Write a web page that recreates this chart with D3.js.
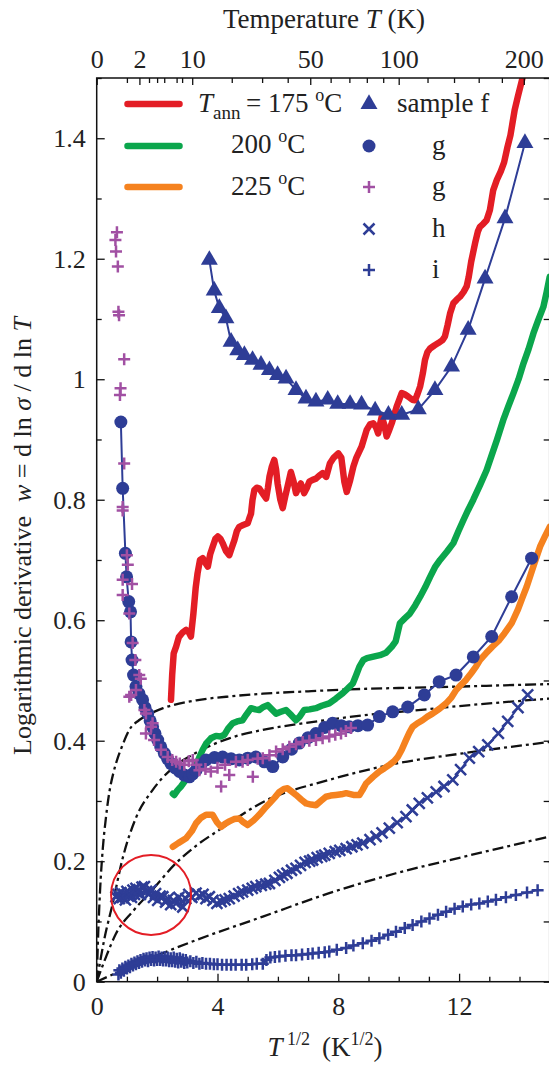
<!DOCTYPE html>
<html>
<head>
<meta charset="utf-8">
<script src="https://cdn.jsdelivr.net/npm/d3@7"></script>
<style>
body { margin: 0; background: #fff; }
svg { display: block; }
</style>
</head>
<body>
<script>
//Width and height
var w = 549;
var h = 1068;

//Plot frame (pixels)
var plot = {left: 96.7, right: 549.7, top: 78, bottom: 981.7};

//Tick values
var xMajorTicks = [0, 4, 8, 12];
var xMinorTicks = [1, 2, 3, 5, 6, 7, 9, 10, 11, 13, 14];
var yMajorTicks = [0, 0.2, 0.4, 0.6, 0.8, 1, 1.2, 1.4];
var yMinorTicks = [0.1, 0.3, 0.5, 0.7, 0.9, 1.1, 1.3, 1.5];
var tempTicks = [0, 2, 10, 50, 100, 200];
var tempMinorTicks = [1, 3, 4, 5, 7, 8, 20, 30, 40, 60, 70, 80, 90, 120, 140, 160, 180];

//Measured curves: [T^1/2, w]
var ann175 = [[2.46,0.468],[2.50,0.51],[2.55,0.545],[2.63,0.556],[2.72,0.572],[2.85,0.58],[2.96,0.584],[3.05,0.58],[3.12,0.573],[3.2,0.61],[3.28,0.655],[3.34,0.678],[3.42,0.70],[3.51,0.703],[3.6,0.695],[3.68,0.689],[3.76,0.71],[3.84,0.722],[3.93,0.735],[4.01,0.739],[4.1,0.735],[4.17,0.728],[4.28,0.715],[4.39,0.708],[4.47,0.72],[4.56,0.733],[4.64,0.748],[4.72,0.755],[4.85,0.758],[5.00,0.761],[5.06,0.77],[5.11,0.777],[5.16,0.80],[5.22,0.816],[5.30,0.82],[5.38,0.819],[5.5,0.81],[5.61,0.802],[5.67,0.82],[5.72,0.838],[5.80,0.855],[5.88,0.866],[5.94,0.85],[5.99,0.827],[6.08,0.80],[6.16,0.786],[6.24,0.805],[6.32,0.822],[6.43,0.846],[6.52,0.83],[6.60,0.811],[6.68,0.82],[6.76,0.827],[6.87,0.811],[6.96,0.82],[7.04,0.830],[7.15,0.833],[7.26,0.835],[7.37,0.84],[7.48,0.844],[7.6,0.838],[7.72,0.860],[7.85,0.87],[8.0,0.877],[8.1,0.87],[8.2,0.83],[8.28,0.813],[8.38,0.83],[8.50,0.855],[8.6,0.87],[8.77,0.888],[8.94,0.916],[9.05,0.925],[9.16,0.927],[9.25,0.92],[9.32,0.910],[9.38,0.925],[9.44,0.938],[9.52,0.925],[9.60,0.905],[9.68,0.915],[9.77,0.927],[9.93,0.954],[10.10,0.977],[10.2,0.975],[10.32,0.971],[10.45,0.966],[10.54,0.965],[10.62,0.975],[10.71,0.988],[10.8,1.01],[10.87,1.032],[10.95,1.045],[11.04,1.051],[11.18,1.056],[11.31,1.060],[11.45,1.065],[11.53,1.071],[11.62,1.09],[11.70,1.109],[11.81,1.126],[11.92,1.132],[12.03,1.137],[12.15,1.145],[12.25,1.154],[12.32,1.17],[12.40,1.195],[12.53,1.226],[12.62,1.245],[12.69,1.253],[12.80,1.258],[12.91,1.264],[13.02,1.281],[13.13,1.314],[13.25,1.331],[13.38,1.345],[13.49,1.36],[13.6,1.385],[13.7,1.405],[13.84,1.447],[13.95,1.47],[14.05,1.49],[14.15,1.51]];

var ann200 = [[2.52,0.312],[2.57,0.310],[2.68,0.318],[2.79,0.324],[2.95,0.335],[3.05,0.342],[3.18,0.346],[3.3,0.36],[3.42,0.375],[3.51,0.385],[3.62,0.395],[3.78,0.404],[3.95,0.408],[4.1,0.407],[4.23,0.410],[4.35,0.42],[4.50,0.429],[4.65,0.432],[4.83,0.434],[4.95,0.443],[5.11,0.454],[5.25,0.452],[5.38,0.451],[5.52,0.456],[5.66,0.459],[5.8,0.452],[5.94,0.445],[6.1,0.448],[6.27,0.451],[6.45,0.442],[6.60,0.434],[6.72,0.44],[6.87,0.451],[7.05,0.452],[7.26,0.454],[7.45,0.458],[7.70,0.462],[7.92,0.470],[8.15,0.479],[8.3,0.486],[8.48,0.495],[8.6,0.51],[8.70,0.523],[8.83,0.534],[8.95,0.537],[9.2,0.54],[9.38,0.542],[9.58,0.546],[9.77,0.556],[9.9,0.565],[10.04,0.595],[10.2,0.603],[10.37,0.611],[10.55,0.625],[10.71,0.639],[10.88,0.655],[11.04,0.672],[11.2,0.688],[11.37,0.700],[11.6,0.714],[11.81,0.728],[11.98,0.748],[12.14,0.766],[12.3,0.783],[12.47,0.800],[12.7,0.825],[12.91,0.849],[13.08,0.874],[13.25,0.899],[13.46,0.932],[13.63,0.955],[13.80,0.977],[13.97,1.0],[14.13,1.026],[14.3,1.05],[14.46,1.076],[14.62,1.098],[14.79,1.120],[14.9,1.145],[15.0,1.17]];

var ann225 = [[2.52,0.224],[2.7,0.23],[2.96,0.238],[3.15,0.25],[3.29,0.263],[3.45,0.272],[3.62,0.277],[3.84,0.277],[3.98,0.265],[4.12,0.257],[4.25,0.262],[4.39,0.266],[4.55,0.27],[4.72,0.271],[4.85,0.265],[5.00,0.260],[5.2,0.268],[5.38,0.277],[5.55,0.287],[5.72,0.296],[5.9,0.306],[6.05,0.315],[6.2,0.32],[6.32,0.321],[6.45,0.316],[6.60,0.310],[6.78,0.302],[6.93,0.296],[7.1,0.294],[7.26,0.293],[7.42,0.30],[7.59,0.307],[7.75,0.309],[7.92,0.310],[8.1,0.311],[8.26,0.313],[8.5,0.31],[8.70,0.310],[8.8,0.318],[8.92,0.329],[9.15,0.34],[9.36,0.349],[9.52,0.354],[9.69,0.360],[9.85,0.366],[9.97,0.373],[10.1,0.385],[10.24,0.401],[10.35,0.413],[10.46,0.423],[10.62,0.429],[10.79,0.434],[10.95,0.44],[11.12,0.445],[11.35,0.453],[11.57,0.462],[11.75,0.472],[11.90,0.484],[12.05,0.492],[12.23,0.501],[12.4,0.512],[12.56,0.523],[12.69,0.534],[12.89,0.545],[13.1,0.556],[13.33,0.567],[13.5,0.578],[13.74,0.595],[13.95,0.618],[14.1,0.638],[14.24,0.656],[14.45,0.688],[14.68,0.722],[14.85,0.74],[15.0,0.755]];

//Samples
var sampleF = [[3.73,1.198],[3.89,1.147],[4.06,1.118],[4.28,1.101],[4.45,1.062],[4.67,1.048],[4.89,1.040],[5.16,1.032],[5.44,1.024],[5.72,1.015],[5.99,1.007],[6.27,1.001],[6.60,0.982],[6.93,0.968],[7.26,0.963],[7.65,0.966],[7.98,0.959],[8.39,0.959],[8.77,0.958],[9.22,0.948],[9.66,0.941],[10.10,0.941],[10.65,0.950],[11.20,0.982],[11.75,1.021],[12.30,1.082],[12.86,1.167],[13.52,1.267],[14.18,1.392]];

var sampleG = [[0.80,0.929],[0.86,0.819],[0.95,0.711],[0.99,0.672],[1.06,0.631],[1.12,0.614],[1.14,0.564],[1.17,0.534],[1.22,0.509],[1.30,0.490],[1.40,0.478],[1.52,0.468],[1.60,0.455],[1.69,0.445],[1.77,0.433],[1.85,0.423],[1.93,0.412],[2.02,0.401],[2.12,0.39],[2.24,0.379],[2.35,0.37],[2.46,0.362],[2.6,0.355],[2.74,0.349],[2.9,0.343],[3.07,0.340],[3.18,0.345],[3.29,0.351],[3.45,0.36],[3.62,0.368],[3.9,0.372],[4.17,0.373],[4.45,0.370],[4.72,0.368],[5.0,0.371],[5.27,0.373],[5.55,0.365],[5.83,0.357],[6.16,0.373],[6.45,0.386],[6.71,0.396],[7.0,0.405],[7.26,0.412],[7.55,0.422],[7.81,0.429],[8.1,0.425],[8.36,0.423],[8.65,0.425],[8.97,0.426],[9.36,0.440],[9.80,0.448],[10.30,0.456],[10.85,0.476],[11.34,0.498],[11.90,0.509],[12.47,0.539],[13.08,0.573],[13.74,0.639],[14.40,0.703]];

var sampleG2 = [[0.67,1.244],[0.62,1.231],[0.64,1.212],[0.70,1.187],[0.72,1.112],[0.74,1.106],[0.91,1.033],[0.79,0.985],[0.77,0.974],[0.91,0.860],[0.86,0.788],[0.86,0.782],[1.00,0.708],[1.03,0.692],[0.86,0.667],[1.17,0.660],[0.86,0.642],[1.08,0.611],[1.19,0.562],[1.28,0.534],[1.41,0.509],[1.46,0.503],[1.30,0.484],[1.08,0.473],[1.14,0.476],[1.58,0.451],[1.63,0.445],[1.80,0.423],[1.85,0.429],[1.63,0.412],[1.90,0.401],[2.13,0.385],[2.35,0.373],[2.5,0.368],[2.63,0.365],[2.75,0.362],[2.90,0.360],[3.05,0.366],[3.18,0.368],[3.30,0.36],[3.40,0.351],[3.6,0.353],[3.78,0.349],[4.12,0.324],[4.0,0.355],[4.25,0.36],[4.39,0.343],[4.61,0.365],[4.83,0.365],[5.0,0.368],[5.17,0.340],[5.33,0.37],[5.50,0.371],[5.72,0.376],[5.94,0.382],[6.16,0.386],[6.38,0.390],[6.6,0.394],[6.82,0.398],[7.04,0.40],[7.26,0.401],[7.48,0.404],[7.70,0.407],[7.9,0.41],[8.09,0.412],[8.25,0.416],[8.42,0.421]];

var sampleH = [[0.64,0.141],[0.7,0.145],[0.75,0.138],[0.8,0.148],[0.85,0.14],[0.9,0.145],[0.95,0.136],[1.0,0.15],[1.05,0.142],[1.1,0.147],[1.15,0.14],[1.2,0.152],[1.25,0.145],[1.3,0.155],[1.35,0.148],[1.4,0.153],[1.45,0.145],[1.5,0.157],[1.58,0.158],[1.65,0.15],[1.72,0.145],[1.8,0.152],[1.88,0.14],[1.95,0.146],[2.02,0.135],[2.1,0.142],[2.19,0.141],[2.28,0.132],[2.36,0.138],[2.45,0.128],[2.54,0.135],[2.63,0.130],[2.72,0.14],[2.85,0.124],[2.95,0.138],[3.05,0.145],[3.15,0.14],[3.29,0.147],[3.4,0.142],[3.52,0.145],[3.62,0.138],[3.73,0.141],[3.85,0.135],[3.98,0.13],[4.12,0.133],[4.25,0.136],[4.39,0.138],[4.55,0.142],[4.7,0.146],[4.83,0.149],[5.0,0.152],[5.15,0.155],[5.27,0.158],[5.45,0.16],[5.6,0.162],[5.72,0.163],[5.9,0.168],[6.05,0.173],[6.16,0.177],[6.3,0.18],[6.45,0.185],[6.60,0.188],[6.75,0.193],[6.9,0.198],[7.05,0.2],[7.15,0.202],[7.3,0.206],[7.45,0.208],[7.55,0.21],[7.70,0.213],[7.9,0.216],[8.05,0.218],[8.26,0.221],[8.45,0.224],[8.62,0.227],[8.81,0.230],[9.05,0.236],[9.25,0.241],[9.45,0.247],[9.69,0.255],[9.95,0.264],[10.24,0.274],[10.45,0.285],[10.68,0.296],[10.95,0.305],[11.24,0.315],[11.5,0.324],[11.79,0.335],[12.05,0.352],[12.34,0.371],[12.65,0.382],[12.95,0.393],[13.3,0.412],[13.61,0.432],[13.95,0.455],[14.27,0.476]];

var sampleI = [[0.72,0.012],[0.75,0.019],[0.8,0.015],[0.85,0.022],[0.9,0.018],[0.95,0.025],[1.0,0.022],[1.05,0.027],[1.1,0.024],[1.15,0.03],[1.2,0.027],[1.25,0.032],[1.3,0.029],[1.35,0.034],[1.4,0.031],[1.45,0.036],[1.5,0.033],[1.55,0.038],[1.6,0.035],[1.65,0.039],[1.7,0.034],[1.75,0.04],[1.8,0.036],[1.85,0.041],[1.9,0.035],[1.95,0.04],[2.0,0.036],[2.05,0.042],[2.1,0.036],[2.15,0.04],[2.2,0.035],[2.25,0.041],[2.3,0.035],[2.35,0.04],[2.4,0.034],[2.45,0.039],[2.5,0.034],[2.55,0.04],[2.6,0.033],[2.65,0.038],[2.7,0.032],[2.75,0.039],[2.8,0.033],[2.85,0.037],[2.9,0.031],[2.95,0.036],[3.0,0.032],[3.1,0.034],[3.2,0.031],[3.3,0.033],[3.4,0.03],[3.5,0.031],[3.62,0.03],[3.75,0.03],[3.88,0.029],[4.0,0.029],[4.15,0.028],[4.3,0.028],[4.45,0.028],[4.6,0.028],[4.8,0.028],[4.95,0.028],[5.15,0.029],[5.3,0.03],[5.5,0.03],[5.62,0.036],[5.75,0.04],[5.9,0.041],[6.05,0.042],[6.25,0.043],[6.45,0.044],[6.6,0.044],[6.8,0.045],[7.0,0.046],[7.15,0.047],[7.35,0.048],[7.55,0.049],[7.70,0.050],[7.95,0.053],[8.26,0.056],[8.5,0.06],[8.81,0.064],[9.1,0.068],[9.36,0.072],[9.65,0.078],[9.91,0.083],[10.2,0.089],[10.46,0.094],[10.75,0.1],[11.02,0.105],[11.3,0.111],[11.57,0.116],[11.85,0.121],[12.12,0.125],[12.4,0.128],[12.67,0.130],[12.95,0.133],[13.22,0.136],[13.55,0.14],[13.88,0.144],[14.25,0.148],[14.60,0.152]];

//Dash-dot model curves
var fitA = [[0,0],[0.05,0.08],[0.11,0.15],[0.2,0.22],[0.3,0.27],[0.42,0.315],[0.55,0.346],[0.7,0.372],[0.85,0.392],[1.08,0.418],[1.4,0.434],[1.74,0.444],[2.2,0.454],[3.3,0.467],[4.5,0.474],[5.5,0.478],[7,0.482],[8.8,0.486],[10.5,0.488],[12.1,0.49],[13.5,0.492],[15,0.494]];
var fitB = [[0,0],[0.25,0.07],[0.53,0.13],[0.86,0.205],[1.3,0.272],[1.85,0.318],[2.52,0.355],[3.29,0.38],[4.39,0.404],[5.5,0.418],[7,0.43],[8.8,0.442],[10.5,0.45],[12.1,0.458],[13.5,0.464],[15,0.47]];
var fitC = [[0,0],[0.3,0.04],[0.64,0.08],[1.2,0.117],[1.8,0.15],[2.63,0.197],[3.3,0.226],[4.06,0.252],[5.5,0.298],[7.7,0.335],[9.91,0.362],[12.12,0.379],[15,0.398]];
var fitD = [[0,0],[1.63,0.036],[3.29,0.069],[5.5,0.108],[7.7,0.147],[9.91,0.18],[12.12,0.207],[15,0.241]];

//Highlight circle centre [T^1/2, w]
var circleCentre = [1.8, 0.144];

//Colours
var red = "#e31d25", green = "#0ba64c", orange = "#f5821f", blue = "#2e3d96", purple = "#a150a3";

//Scales
var x = d3.scaleLinear().domain([0, 15]).range([plot.left, plot.right]);
var y = d3.scaleLinear().domain([0, 1.5]).range([plot.bottom, plot.top]);
var xTemp = d3.scaleSqrt().domain([0, 225]).range([plot.left, plot.right]);

//Create SVG element
var svg = d3.select("body")
            .append("svg")
            .attr("width", w)
            .attr("height", h)
            .style("font-family", "'Liberation Serif', 'DejaVu Serif', serif")
            .style("font-size", "27px");

svg.append("clipPath")
   .attr("id", "clip")
   .append("rect")
   .attr("x", plot.left)
   .attr("y", plot.top)
   .attr("width", plot.right - plot.left)
   .attr("height", plot.bottom - plot.top);

var line = d3.line()
             .x(function(d) { return x(d[0]); })
             .y(function(d) { return y(d[1]); });

var smooth = d3.line()
               .curve(d3.curveMonotoneX)
               .x(function(d) { return x(d[0]); })
               .y(function(d) { return y(d[1]); });

var area = svg.append("g").attr("clip-path", "url(#clip)");

//Dash-dot curves
[fitA, fitB, fitC, fitD].forEach(function(c) {
    area.append("path")
        .attr("d", smooth(c))
        .attr("fill", "none")
        .attr("stroke", "#111")
        .attr("stroke-width", 2.3)
        .attr("stroke-dasharray", "11,4,3,4");
});

//Thick annealing curves
[[ann225, orange], [ann200, green], [ann175, red]].forEach(function(c) {
    area.append("path")
        .attr("d", line(c[0]))
        .attr("fill", "none")
        .attr("stroke", c[1])
        .attr("stroke-width", 6.5)
        .attr("stroke-linejoin", "round")
        .attr("stroke-linecap", "round");
});

//Marker shapes
var plusPath = "M-6,0H6M0,-6V6";
var crossPath = "M-5.5,-5.5L5.5,5.5M-5.5,5.5L5.5,-5.5";
var triPath = d3.symbol().type(d3.symbolTriangle).size(125)();

function drawSeries(data, color, shape, withLine) {
    if (withLine) {
        area.append("path")
            .attr("d", line(data))
            .attr("fill", "none")
            .attr("stroke", color)
            .attr("stroke-width", 2);
    }
    var g = area.append("g");
    if (shape === "circle") {
        g.selectAll("circle")
         .data(data)
         .enter()
         .append("circle")
         .attr("cx", function(d) { return x(d[0]); })
         .attr("cy", function(d) { return y(d[1]); })
         .attr("r", 6.5)
         .attr("fill", color);
    } else {
        var p = shape === "tri" ? triPath : shape === "plus" ? plusPath : crossPath;
        g.selectAll("path")
         .data(data)
         .enter()
         .append("path")
         .attr("transform", function(d) { return "translate(" + x(d[0]) + "," + y(d[1]) + ")"; })
         .attr("d", p)
         .attr("fill", shape === "tri" ? color : "none")
         .attr("stroke", shape === "tri" ? "none" : color)
         .attr("stroke-width", 2.5);
    }
}

drawSeries(sampleI, blue, "plus", true);
drawSeries(sampleH, blue, "cross", true);
drawSeries(sampleG, blue, "circle", true);
drawSeries(sampleG2, purple, "plus", false);
drawSeries(sampleF, blue, "tri", true);

//Red highlight circle
svg.append("circle")
   .attr("cx", x(circleCentre[0]))
   .attr("cy", y(circleCentre[1]))
   .attr("r", 40)
   .attr("fill", "none")
   .attr("stroke", red)
   .attr("stroke-width", 2);

//Axes
function styleAxis(g) {
    g.select(".domain").remove();
    g.selectAll(".tick line").attr("stroke", "#111").attr("stroke-width", 1.3);
    g.selectAll("text").attr("fill", "#222").style("font-family", "'Liberation Serif', serif").style("font-size", "26px");
    g.attr("font-family", null).attr("font-size", null);
}

var fmt = d3.format("~g");

svg.append("g")
   .attr("transform", "translate(0," + plot.bottom + ")")
   .call(d3.axisBottom(x).tickValues(xMajorTicks).tickFormat(fmt).tickSizeInner(-8).tickSizeOuter(0).tickPadding(15))
   .call(styleAxis);
svg.append("g")
   .attr("transform", "translate(0," + plot.bottom + ")")
   .call(d3.axisBottom(x).tickValues(xMinorTicks).tickFormat("").tickSizeInner(-5).tickSizeOuter(0))
   .call(styleAxis);

svg.append("g")
   .attr("transform", "translate(" + plot.left + ",0)")
   .call(d3.axisLeft(y).tickValues(yMajorTicks).tickFormat(fmt).tickSizeInner(-8).tickSizeOuter(0).tickPadding(11))
   .call(styleAxis);
svg.append("g")
   .attr("transform", "translate(" + plot.left + ",0)")
   .call(d3.axisLeft(y).tickValues(yMinorTicks).tickFormat("").tickSizeInner(-5).tickSizeOuter(0))
   .call(styleAxis);

svg.append("g")
   .attr("transform", "translate(" + plot.right + ",0)")
   .call(d3.axisRight(y).tickValues(yMajorTicks.concat(yMinorTicks)).tickFormat("").tickSizeInner(-6).tickSizeOuter(0))
   .call(styleAxis);

svg.append("g")
   .attr("transform", "translate(0," + plot.top + ")")
   .call(d3.axisTop(xTemp).tickValues(tempTicks).tickFormat(d3.format("d")).tickSizeInner(-7).tickSizeOuter(0).tickPadding(10))
   .call(styleAxis);
svg.append("g")
   .attr("transform", "translate(0," + plot.top + ")")
   .call(d3.axisTop(xTemp).tickValues(tempMinorTicks).tickFormat("").tickSizeInner(-5).tickSizeOuter(0))
   .call(styleAxis);

//Frame
svg.append("rect")
   .attr("x", plot.left)
   .attr("y", plot.top)
   .attr("width", plot.right - plot.left)
   .attr("height", plot.bottom - plot.top)
   .attr("fill", "none")
   .attr("stroke", "#111")
   .attr("stroke-width", 1.5);

//Axis titles
var topTitle = svg.append("text")
   .attr("x", 324)
   .attr("y", 28)
   .attr("text-anchor", "middle")
   .attr("fill", "#222");
topTitle.append("tspan").text("Temperature ");
topTitle.append("tspan").attr("font-style", "italic").text("T");
topTitle.append("tspan").text(" (K)");

var bottomTitle = svg.append("text")
   .attr("x", 325)
   .attr("y", 1056)
   .attr("text-anchor", "middle")
   .attr("fill", "#222");
bottomTitle.append("tspan").attr("font-style", "italic").text("T");
bottomTitle.append("tspan").attr("dy", -11).attr("font-size", 18).text(" 1/2");
bottomTitle.append("tspan").attr("dy", 11).attr("dx", 12).text("(K");
bottomTitle.append("tspan").attr("dy", -11).attr("font-size", 18).text("1/2");
bottomTitle.append("tspan").attr("dy", 11).text(")");

var leftTitle = svg.append("text")
   .attr("transform", "translate(31,536) rotate(-90)")
   .attr("text-anchor", "middle")
   .attr("font-size", 26)
   .attr("fill", "#222");
leftTitle.append("tspan").text("Logarithmic derivative");
leftTitle.append("tspan").attr("dx", 14).attr("font-style", "italic").text("w");
leftTitle.append("tspan").text(" = d ln ");
leftTitle.append("tspan").attr("font-style", "italic").text("σ");
leftTitle.append("tspan").text(" / d ln ");
leftTitle.append("tspan").attr("font-style", "italic").text("T");

//Legend
var legendLines = [[red, 104], [green, 146], [orange, 187]];
legendLines.forEach(function(l) {
    svg.append("line")
       .attr("x1", 127.5).attr("x2", 179.5)
       .attr("y1", l[1]).attr("y2", l[1])
       .attr("stroke", l[0])
       .attr("stroke-width", 6.5)
       .attr("stroke-linecap", "round");
});

var t1 = svg.append("text").attr("x", 198).attr("y", 112).attr("fill", "#222");
t1.append("tspan").attr("font-style", "italic").text("T");
t1.append("tspan").attr("dy", 7).attr("font-size", 19).text("ann");
t1.append("tspan").attr("dy", -7).attr("x", 246).text("= 175 ");
t1.append("tspan").attr("dy", -11).attr("font-size", 18).text("o");
t1.append("tspan").attr("dy", 11).text("C");

[["200 ", 153], ["225 ", 195]].forEach(function(l) {
    var t = svg.append("text").attr("x", 231).attr("y", l[1]).attr("fill", "#222");
    t.append("tspan").text(l[0]);
    t.append("tspan").attr("dy", -11).attr("font-size", 18).text("o");
    t.append("tspan").attr("dy", 11).text("C");
});

var legendMarks = [
    ["tri", blue, 104, "sample f", 397],
    ["circle", blue, 146, "g", 432],
    ["plus", purple, 187, "g", 432],
    ["cross", blue, 229, "h", 432],
    ["plus", blue, 270, "i", 432]
];
legendMarks.forEach(function(m) {
    if (m[0] === "circle") {
        svg.append("circle").attr("cx", 369).attr("cy", m[2]).attr("r", 6.5).attr("fill", m[1]);
    } else {
        var p = m[0] === "tri" ? triPath : m[0] === "plus" ? plusPath : crossPath;
        svg.append("path")
           .attr("transform", "translate(369," + m[2] + ")")
           .attr("d", p)
           .attr("fill", m[0] === "tri" ? m[1] : "none")
           .attr("stroke", m[0] === "tri" ? "none" : m[1])
           .attr("stroke-width", 2.5);
    }
    svg.append("text")
       .attr("x", m[4])
       .attr("y", m[2] + 8)
       .attr("fill", "#222")
       .text(m[3]);
});
</script>
</body>
</html>
